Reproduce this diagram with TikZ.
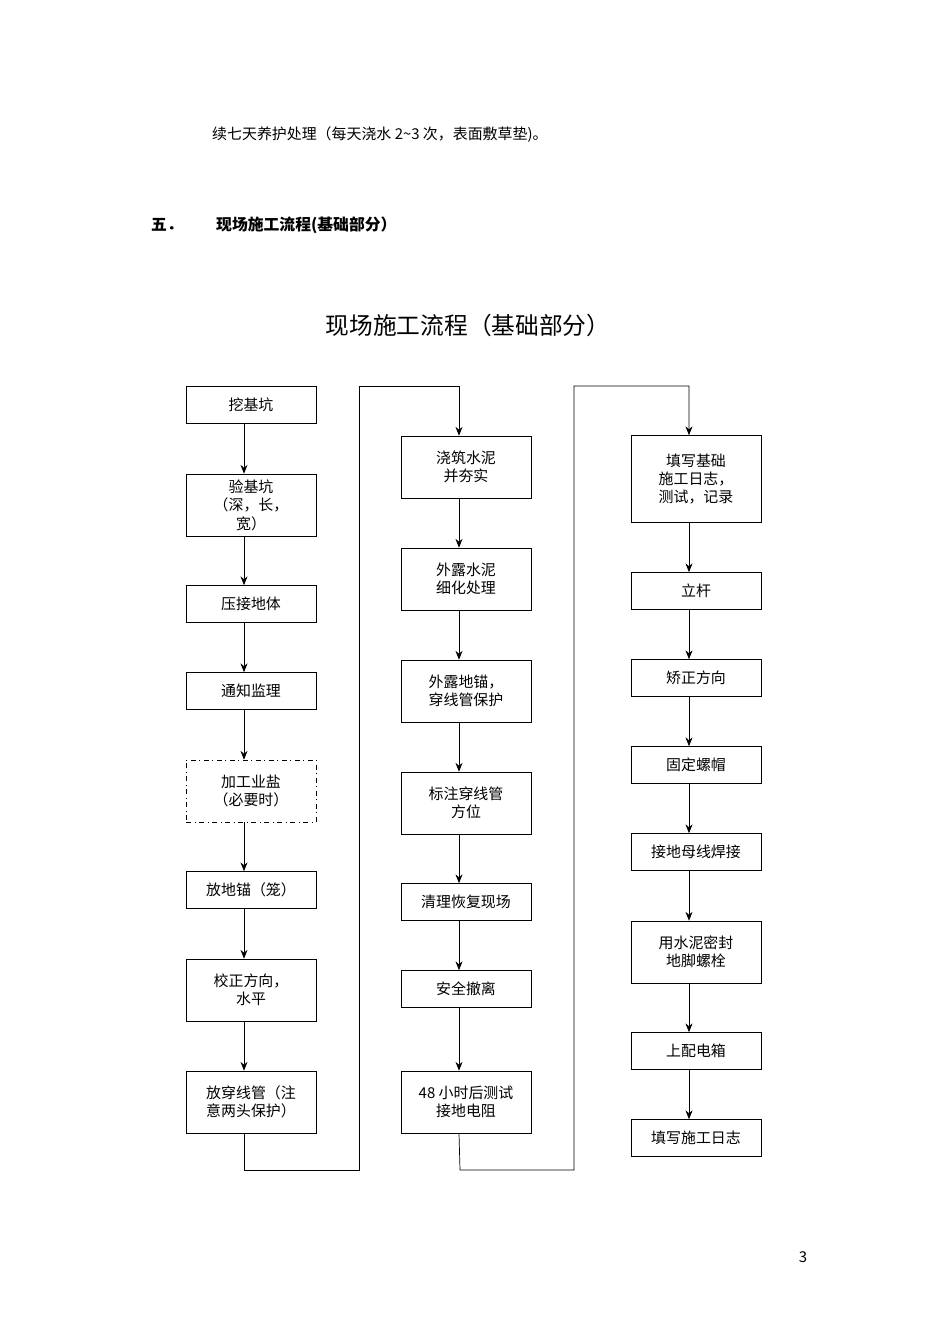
\documentclass[tikz,border=0pt]{standalone}
\usepackage{fontspec}
\setmainfont{Noto Sans CJK SC}
\usetikzlibrary{arrows.meta, positioning}

\begin{document}
\begin{tikzpicture}[x=0.02cm, y=-0.02cm,
      every node/.style={font=\fontsize{8.5}{10.5}\selectfont},
      box/.style={draw, minimum width=2.6cm, minimum height=0.74cm,
                  align=center, inner sep=1pt},
      tall/.style={box, minimum height=1.24cm},
      arr/.style={-{Stealth[length=5pt, width=4pt]}},
    ]
    \useasboundingbox (0,0) rectangle (950,1344);

    % Page text
    \node[anchor=west] (cont) at (206,135) {续七天养护处理（每天浇水 2\textasciitilde3 次，表面敷草垫)。};
    \node[anchor=west, font=\fontsize{9}{11}\bfseries] (sec) at (145,225) {五．};
    \node[anchor=west, font=\fontsize{9}{11}\bfseries] (head) at (210,225) {现场施工流程(基础部分）};
    \node[font=\fontsize{13.5}{16}\selectfont] (title) at (468,325) {现场施工流程（基础部分）};
    \node (page) at (803,1257) {3};

    % Column 1
    \node[box]  (dig)     at (251,405)  {挖基坑};
    \node[tall] (check)   at (251,505)  {验基坑\\（深，长，\\宽）};
    \node[box]  (press)   at (251,604)  {压接地体};
    \node[box]  (notify)  at (251,691)  {通知监理};
    \node[tall, dash dot] (salt) at (251,791) {加工业盐\\（必要时）};
    \node[box]  (anchor)  at (251,890)  {放地锚（笼）};
    \node[tall] (level)   at (251,990)  {校正方向，\\水平};
    \node[tall] (conduit) at (251,1102) {放穿线管（注\\意两头保护）};

    % Column 2
    \node[tall] (pour)    at (466,467)  {浇筑水泥\\并夯实};
    \node[tall] (refine)  at (466,579)  {外露水泥\\细化处理};
    \node[tall] (protect) at (466,691)  {外露地锚，\\穿线管保护};
    \node[tall] (mark)    at (466,803)  {标注穿线管\\方位};
    \node[box]  (clean)   at (466,902)  {清理恢复现场};
    \node[box]  (leave)   at (466,989)  {安全撤离};
    \node[tall] (test)    at (466,1102) {48 小时后测试\\接地电阻};

    % Column 3
    \node[box, minimum height=1.74cm] (log) at (696,479) {填写基础\\施工日志，\\测试，记录};
    \node[box]  (pole)    at (696,591)  {立杆};
    \node[box]  (align)   at (696,678)  {矫正方向};
    \node[box]  (nut)     at (696,765)  {固定螺帽};
    \node[box]  (weld)    at (696,852)  {接地母线焊接};
    \node[tall] (seal)    at (696,952)  {用水泥密封\\地脚螺栓};
    \node[box]  (cabinet) at (696,1051) {上配电箱};
    \node[box]  (record)  at (696,1138) {填写施工日志};

    % Arrows, column 1
    \foreach \a/\b in {dig/check, check/press, press/notify, notify/salt,
                       salt/anchor, anchor/level, level/conduit}
      \draw[arr] (\a.south -| 244,0) -- (\b.north -| 244,0);
    % Arrows, column 2
    \foreach \a/\b in {pour/refine, refine/protect, protect/mark,
                       mark/clean, clean/leave, leave/test}
      \draw[arr] (\a.south -| 459,0) -- (\b.north -| 459,0);
    % Arrows, column 3
    \foreach \a/\b in {log/pole, pole/align, align/nut, nut/weld,
                       weld/seal, seal/cabinet, cabinet/record}
      \draw[arr] (\a.south -| 689,0) -- (\b.north -| 689,0);

    % Links between columns
    \draw[arr] (conduit.south -| 244,0) -- (244,1170) -- (359,1170)
      -- (359,386) -- (459,386) -- (pour.north -| 459,0);
    \draw[arr] (test.south -| 459,0) -- (460,1170) -- (574,1170)
      -- (574,386) -- (689,386) -- (log.north -| 689,0);
  \end{tikzpicture}
\end{document}
